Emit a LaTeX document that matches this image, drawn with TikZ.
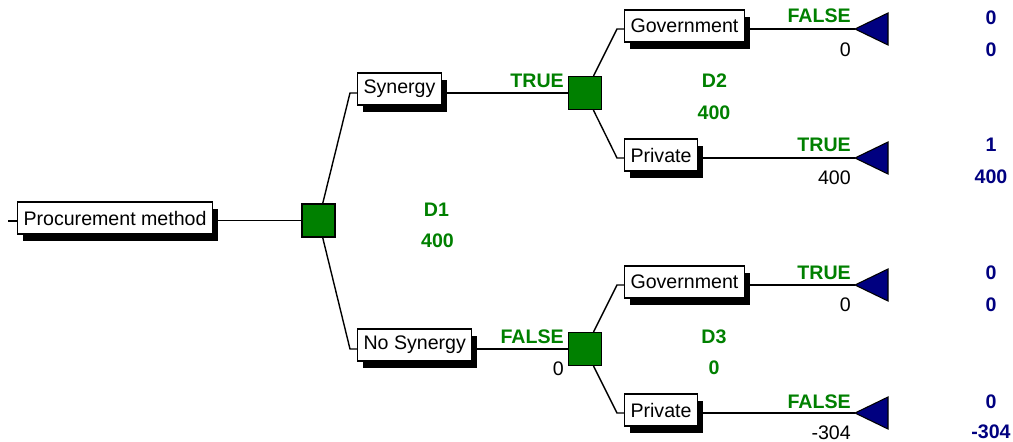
\documentclass[tikz,border=0pt]{standalone}
\usepackage{fontspec}
\setmainfont{Liberation Sans}
\usetikzlibrary{shadows}
\definecolor{dgreen}{RGB}{0,128,0}
\definecolor{dnavy}{RGB}{0,0,128}
\begin{document}
\begin{tikzpicture}[x=0.75pt,y=-0.75pt,
  font=\fontsize{14.7}{17}\selectfont,
  lbl/.style={draw=black, fill=white, line width=0.8pt, inner xsep=4.5pt, inner ysep=0pt,
    minimum height=24pt, anchor=west,
    drop shadow={shadow xshift=4pt, shadow yshift=-5pt, opacity=1, fill=black}},
  dec/.style={draw=black, fill=dgreen, line width=0.8pt, minimum size=24.75pt, inner sep=0pt},
  conn/.style={line width=1.05pt},
  tf/.style={text=dgreen, font=\fontsize{14.7}{17}\selectfont\bfseries, inner sep=0pt, anchor=east},
  val/.style={inner sep=0pt, anchor=east},
  res/.style={text=dnavy, font=\fontsize{14.7}{17}\selectfont\bfseries, inner sep=0pt},
  dval/.style={text=dgreen, font=\fontsize{14.7}{17}\selectfont\bfseries, inner sep=0pt},
  tri/.style={draw=black, fill=dnavy, line width=0.8pt, line join=miter}]
\useasboundingbox (0,0) rectangle (1013,442);

% decision nodes
\node[dec] (D1) at (318.5,220.5) {};
\node[dec] (D2) at (585,93) {};
\node[dec] (D3) at (585,349) {};

% branch boxes
\node[lbl] (root) at (17,218) {Procurement method};
\node[lbl] (syn) at (357,89) {Synergy};
\node[lbl] (nosyn) at (357,345) {No Synergy};
\node[lbl] (gov1) at (624,26) {Government};
\node[lbl] (priv1) at (624,155) {Private};
\node[lbl] (gov2) at (624,282) {Government};
\node[lbl] (priv2) at (624,410) {Private};

% coordinates
\coordinate (rootin) at (8,221);
\coordinate (e1a) at (350,93);
\coordinate (e1b) at (350,349);
\coordinate (e2a) at (617,29);
\coordinate (e2b) at (617,158);
\coordinate (e3a) at (617,285);
\coordinate (e3b) at (617,413);
\coordinate (t1) at (855,29);
\coordinate (t2) at (855,158);
\coordinate (t3) at (855,285);
\coordinate (t4) at (855,413);

% connectors
\draw[conn] (rootin) -- (root.west |- rootin);
\draw[conn] (root.east |- D1) -- (D1);
\draw[conn] (D1) -- (e1a) -- (syn.west |- e1a);
\draw[conn] (D1) -- (e1b) -- (nosyn.west |- e1b);
\draw[conn] (syn.east |- D2) -- (D2);
\draw[conn] (nosyn.east |- D3) -- (D3);
\draw[conn] (D2) -- (e2a) -- (gov1.west |- e2a);
\draw[conn] (D2) -- (e2b) -- (priv1.west |- e2b);
\draw[conn] (D3) -- (e3a) -- (gov2.west |- e3a);
\draw[conn] (D3) -- (e3b) -- (priv2.west |- e3b);
\draw[conn] (gov1.east |- t1) -- (t1);
\draw[conn] (priv1.east |- t2) -- (t2);
\draw[conn] (gov2.east |- t3) -- (t3);
\draw[conn] (priv2.east |- t4) -- (t4);

% terminal triangles
\draw[tri] (t1) -- ++(33,-16) -- ++(0,32) -- cycle;
\draw[tri] (t2) -- ++(33,-16) -- ++(0,32) -- cycle;
\draw[tri] (t3) -- ++(33,-16) -- ++(0,32) -- cycle;
\draw[tri] (t4) -- ++(33,-16) -- ++(0,32) -- cycle;

% branch labels
\node[tf] (lsyn) at (564,81) {TRUE};
\node[tf] (lnosyn) at (564,337) {FALSE};
\node[val] (vnosyn) at (564,369) {0};
\node[tf] (lgov1) at (851,16) {FALSE};
\node[val] (vgov1) at (851,50) {0};
\node[tf] (lpriv1) at (851,145) {TRUE};
\node[val] (vpriv1) at (851,178) {400};
\node[tf] (lgov2) at (851,273) {TRUE};
\node[val] (vgov2) at (851,305) {0};
\node[tf] (lpriv2) at (851,402) {FALSE};
\node[val] (vpriv2) at (851,433) {-304};

% results
\node[res] (r1a) at (991,18) {0};
\node[res] (r1b) at (991,50) {0};
\node[res] (r2a) at (991,145) {1};
\node[res] (r2b) at (991,177) {400};
\node[res] (r3a) at (991,273) {0};
\node[res] (r3b) at (991,305) {0};
\node[res] (r4a) at (991,402) {0};
\node[res] (r4b) at (991,432) {-304};

% decision names and values
\node[dval] (n1) at (436.5,210) {D1};
\node[dval] (n1v) at (437.5,241) {400};
\node[dval] (n2) at (714.5,81) {D2};
\node[dval] (n2v) at (714,113) {400};
\node[dval] (n3) at (714,337) {D3};
\node[dval] (n3v) at (714,368) {0};
\end{tikzpicture}
\end{document}
